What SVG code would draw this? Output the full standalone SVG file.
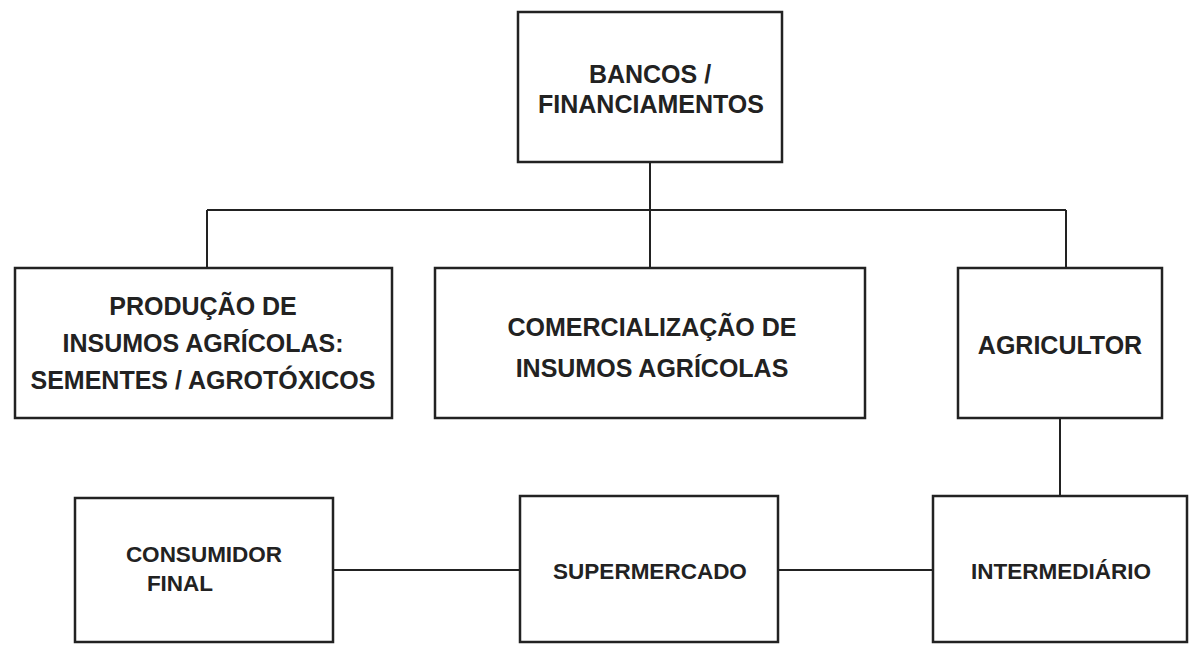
<svg xmlns="http://www.w3.org/2000/svg" width="1200" height="654" viewBox="0 0 1200 654">
<style>
.b{fill:#fff;stroke:#222;stroke-width:2.5}
.t{font-family:"Liberation Sans",Arial,sans-serif;font-weight:bold;font-size:25px;fill:#222;text-anchor:middle}
.s{font-size:22.5px}
.c{stroke:#222;stroke-width:2;fill:none}
</style>
<rect width="1200" height="654" fill="#fff"/>
<g id="connectors">
<path class="c" d="M650 162V210M207 210H1066M207 210V268M650 210V268M1066 210V268M1060 418V496M333 570H520M778 570H933"/>
</g>
<g id="bancos"><rect class="b" x="518" y="12" width="264" height="150"/>
<text class="t" x="650" y="83">BANCOS /</text><text class="t" x="651" y="113">FINANCIAMENTOS</text></g>
<g id="producao"><rect class="b" x="15" y="268" width="377" height="150"/>
<text class="t" x="203" y="315">PRODUÇÃO DE</text><text class="t" x="203" y="352">INSUMOS AGRÍCOLAS:</text><text class="t" x="203" y="389">SEMENTES / AGROTÓXICOS</text></g>
<g id="comercializacao"><rect class="b" x="435" y="268" width="430" height="150"/>
<text class="t" x="652" y="336">COMERCIALIZAÇÃO DE</text><text class="t" x="652" y="377">INSUMOS AGRÍCOLAS</text></g>
<g id="agricultor"><rect class="b" x="958" y="268" width="204" height="150"/>
<text class="t" x="1060" y="354">AGRICULTOR</text></g>
<g id="consumidor"><rect class="b" x="75" y="498" width="258" height="144"/>
<text class="t s" x="204" y="562">CONSUMIDOR</text><text class="t s" x="180" y="591">FINAL</text></g>
<g id="supermercado"><rect class="b" x="520" y="496" width="258" height="146"/>
<text class="t s" x="650" y="579">SUPERMERCADO</text></g>
<g id="intermediario"><rect class="b" x="933" y="496" width="254" height="146"/>
<text class="t s" x="1061" y="579">INTERMEDIÁRIO</text></g>
</svg>
